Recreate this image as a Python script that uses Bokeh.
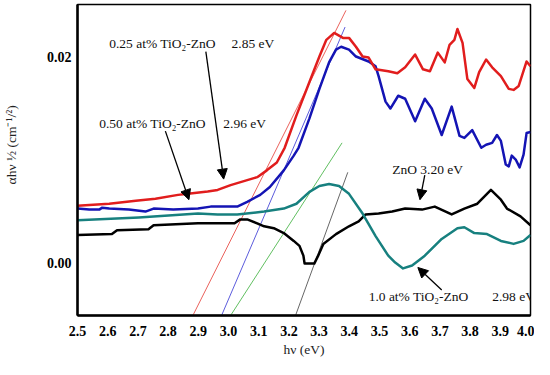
from bokeh.plotting import figure
from bokeh.models import Range1d, FixedTicker, NumeralTickFormatter, Arrow, NormalHead, Label
from bokeh.embed import file_html
from bokeh.resources import INLINE

# ---- data ----
red_x = [2.500, 2.605, 2.693, 2.758, 2.833, 2.866, 2.931, 2.964, 3.007, 3.062, 3.095, 3.127, 3.160,
         3.186, 3.225, 3.268, 3.301, 3.324, 3.350, 3.379, 3.399, 3.422, 3.444, 3.464, 3.487, 3.529,
         3.559, 3.585, 3.618, 3.644, 3.667, 3.693, 3.716, 3.732, 3.748, 3.758, 3.775, 3.791, 3.814,
         3.830, 3.853, 3.873, 3.902, 3.928, 3.944, 3.961, 3.987, 4.000]
red_y = [0.00552, 0.00571, 0.00600, 0.00619, 0.00657, 0.00667, 0.00690, 0.00705, 0.00752, 0.00800,
         0.00829, 0.00895, 0.00971, 0.01114, 0.01429, 0.01752, 0.02000, 0.02162, 0.02229, 0.02181,
         0.02181, 0.02095, 0.02000, 0.01990, 0.01876, 0.01857, 0.01838, 0.01895, 0.02019, 0.01876,
         0.01857, 0.02038, 0.01943, 0.02114, 0.02162, 0.02267, 0.02133, 0.01781, 0.01695, 0.01848,
         0.01971, 0.01895, 0.01810, 0.01686, 0.01676, 0.01714, 0.01952, 0.01905]

blue_x = [2.500, 2.539, 2.572, 2.582, 2.605, 2.670, 2.725, 2.752, 2.817, 2.899, 2.941, 3.029, 3.062,
          3.105, 3.137, 3.183, 3.216, 3.232, 3.268, 3.301, 3.333, 3.356, 3.373, 3.399, 3.422, 3.464,
          3.487, 3.497, 3.520, 3.536, 3.562, 3.585, 3.618, 3.650, 3.673, 3.706, 3.739, 3.765, 3.781,
          3.807, 3.837, 3.853, 3.873, 3.889, 3.902, 3.918, 3.928, 3.938, 3.951, 3.964, 3.977, 3.987, 4.000]
blue_y = [0.00524, 0.00514, 0.00514, 0.00533, 0.00524, 0.00514, 0.00495, 0.00524, 0.00514, 0.00524,
          0.00543, 0.00543, 0.00590, 0.00657, 0.00733, 0.00895, 0.01038, 0.01114, 0.01400, 0.01686,
          0.01943, 0.02067, 0.02095, 0.02067, 0.02000, 0.01952, 0.01905, 0.01810, 0.01562, 0.01495,
          0.01619, 0.01590, 0.01371, 0.01590, 0.01495, 0.01238, 0.01514, 0.01229, 0.01210, 0.01286,
          0.01114, 0.01143, 0.01162, 0.01238, 0.01181, 0.00952, 0.00933, 0.01038, 0.01000, 0.00924,
          0.01048, 0.01257, 0.01267]

teal_x = [2.500, 2.703, 2.899, 2.964, 3.029, 3.118, 3.183, 3.225, 3.268, 3.301, 3.333, 3.366, 3.399,
          3.444, 3.487, 3.529, 3.552, 3.578, 3.608, 3.650, 3.706, 3.758, 3.781, 3.814, 3.856, 3.902,
          3.944, 3.977, 4.000]
teal_y = [0.00410, 0.00438, 0.00476, 0.00467, 0.00467, 0.00495, 0.00524, 0.00571, 0.00686, 0.00743,
          0.00762, 0.00743, 0.00667, 0.00476, 0.00257, 0.00067, 0.00000, -0.00057, -0.00029, 0.00067,
          0.00229, 0.00333, 0.00343, 0.00286, 0.00276, 0.00210, 0.00181, 0.00210, 0.00267]

black_x = [2.500, 2.614, 2.631, 2.735, 2.752, 2.899, 3.020, 3.039, 3.062, 3.095, 3.118, 3.150, 3.183,
           3.216, 3.235, 3.248, 3.252, 3.284, 3.297, 3.314, 3.356, 3.399, 3.431, 3.454, 3.497, 3.542,
           3.585, 3.641, 3.683, 3.739, 3.781, 3.824, 3.869, 3.902, 3.922, 3.967, 4.000]
black_y = [0.00267, 0.00276, 0.00314, 0.00324, 0.00362, 0.00381, 0.00381, 0.00419, 0.00419, 0.00381,
           0.00352, 0.00333, 0.00286, 0.00210, 0.00162, 0.00067, -0.00010, -0.00010, 0.00067, 0.00181,
           0.00276, 0.00352, 0.00400, 0.00467, 0.00476, 0.00495, 0.00524, 0.00514, 0.00543, 0.00467,
           0.00524, 0.00571, 0.00705, 0.00610, 0.00524, 0.00448, 0.00362]

# tangent (Tauc extrapolation) lines: [x0, x1], [y0, y1]
tan_red_x, tan_red_y = [2.882, 3.389], [-0.00514, 0.02448]
tan_blue_x, tan_blue_y = [2.977, 3.386], [-0.00514, 0.02286]
tan_green_x, tan_green_y = [3.007, 3.376], [-0.00514, 0.01162]
tan_gray_x, tan_gray_y = [3.222, 3.395], [-0.00514, 0.00876]

x_ticks = [2.5, 2.6, 2.7, 2.8, 2.9, 3.0, 3.1, 3.2, 3.3, 3.4, 3.5, 3.6, 3.7, 3.8, 3.9, 4.0]
y_ticks = [0.00, 0.02]

# annotations: (text, x, y)
labels = [
    ("0.25 at% TiO₂-ZnO", 2.605, 0.02124),
    ("2.85 eV", 3.010, 0.02124),
    ("0.50 at% TiO₂-ZnO", 2.572, 0.01352),
    ("2.96 eV", 2.983, 0.01352),
    ("ZnO 3.20 eV", 3.542, 0.00905),
    ("1.0 at% TiO₂-ZnO", 3.464, -0.00333),
    ("2.98 eV", 3.873, -0.00333),
]
# arrows: (x_start, y_start, x_end, y_end)
arrows = [
    (2.925, 0.02048, 2.984, 0.00810),
    (2.791, 0.01276, 2.869, 0.00610),
    (3.650, 0.00848, 3.634, 0.00610),
    (3.706, -0.00267, 3.627, -0.00048),
]

SERIF = "Liberation Serif"
NB = "\u00a0"

p = figure(width=534, height=359, output_backend="svg", toolbar_location=None,
           x_range=Range1d(2.5, 4.0), y_range=Range1d(-0.00514, 0.02505),
           min_border_left=76, min_border_right=4, min_border_top=4, min_border_bottom=42)
p.background_fill_color = "white"
p.border_fill_color = "white"
p.grid.visible = False
p.outline_line_color = "black"
p.outline_line_width = 1.5

for ax in (p.xaxis[0], p.yaxis[0]):
    ax.axis_line_color = "black"
    ax.axis_line_width = 2.5
    ax.major_tick_line_color = None
    ax.minor_tick_line_color = None
    ax.major_tick_out = 0
    ax.major_tick_in = 0
    ax.major_label_text_font = SERIF
    ax.major_label_text_font_style = "bold"
    ax.major_label_text_font_size = "14px"
    ax.major_label_text_color = "black"
    ax.axis_label_text_font = SERIF
    ax.axis_label_text_font_style = "normal"
    ax.axis_label_text_font_size = "13.5px"
    ax.axis_label_text_color = "#222222"

p.xaxis[0].ticker = FixedTicker(ticks=x_ticks)
p.xaxis[0].formatter = NumeralTickFormatter(format="0.0")
p.xaxis[0].major_label_standoff = 10
p.xaxis[0].axis_label = "hν (eV)"
p.xaxis[0].axis_label_standoff = 3

p.yaxis[0].ticker = FixedTicker(ticks=y_ticks)
p.yaxis[0].formatter = NumeralTickFormatter(format="0.00")
p.yaxis[0].major_label_standoff = 6
p.yaxis[0].axis_label = NB * 10 + "αhν ½  (cm⁻¹/²)"
p.yaxis[0].axis_label_standoff = 25

# tangent lines
p.line(tan_red_x, tan_red_y, line_color="#e8504a", line_width=0.9)
p.line(tan_blue_x, tan_blue_y, line_color="#4a4ad8", line_width=0.9)
p.line(tan_green_x, tan_green_y, line_color="#4fb84f", line_width=0.9)
p.line(tan_gray_x, tan_gray_y, line_color="#555555", line_width=0.9)

# spectra
p.line(black_x, black_y, line_color="black", line_width=2.5, line_join="round")
p.line(teal_x, teal_y, line_color="#17807f", line_width=2.5, line_join="round")
p.line(blue_x, blue_y, line_color="#1414b4", line_width=2.5, line_join="round")
p.line(red_x, red_y, line_color="#e11d1d", line_width=2.5, line_join="round")

for (t, x, y) in labels:
    p.add_layout(Label(x=x, y=y, text=t, text_font=SERIF, text_font_size="13.5px",
                       text_color="#111111", text_baseline="middle", text_align="left"))

for (x0, y0, x1, y1) in arrows:
    p.add_layout(Arrow(x_start=x0, y_start=y0, x_end=x1, y_end=y1, line_width=1.3,
                       line_color="black",
                       end=NormalHead(size=10, fill_color="black", line_color="black")))

open("out.html", "w").write(file_html(p, INLINE))
